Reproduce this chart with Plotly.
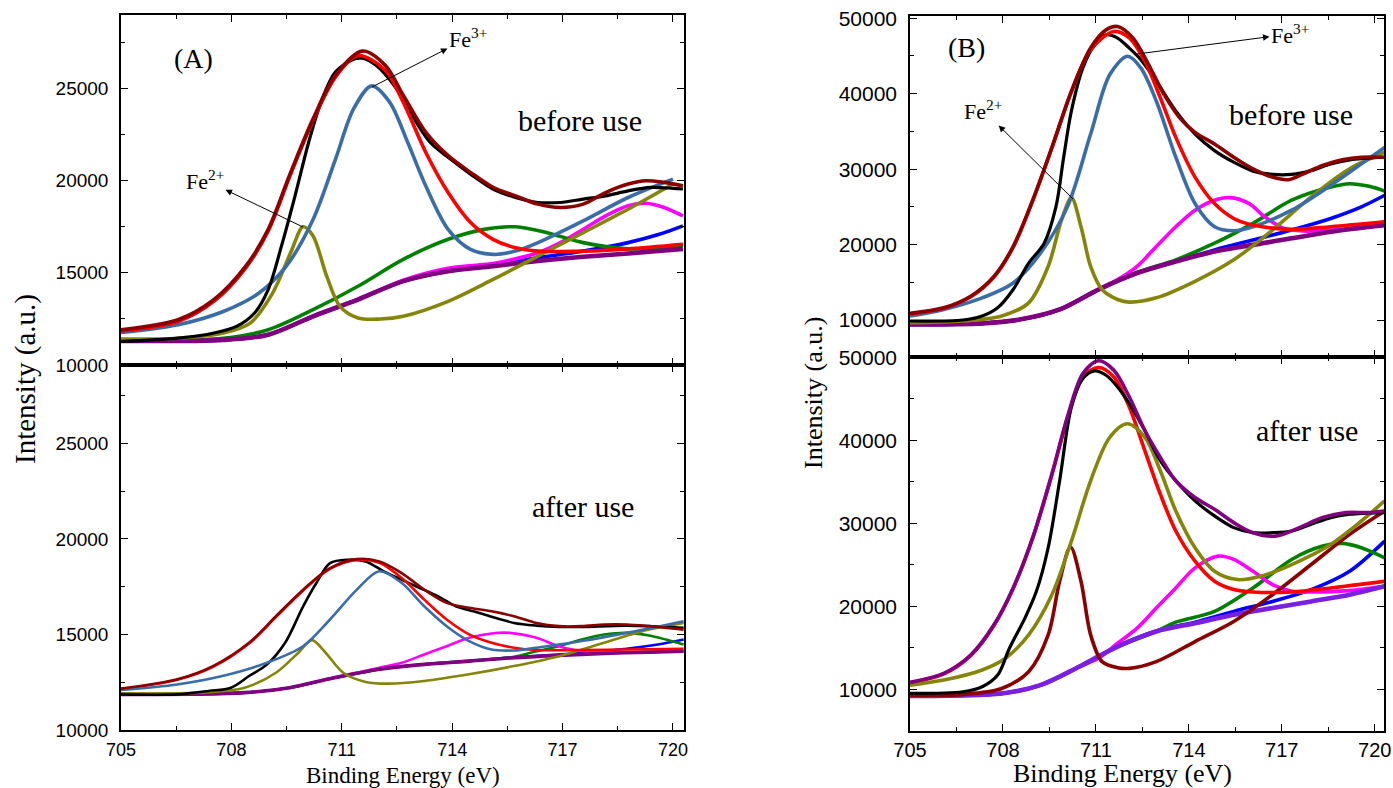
import plotly.graph_objects as go

W, H = 1393, 788

# ---------------- Panel A, before use ----------------
black_at_x = [705.0, 706.55, 707.53, 708.14, 708.63, 709.0, 709.36, 709.73, 710.10, 710.46, 710.83, 711.32, 711.56, 711.93, 712.42, 712.91, 713.40, 713.89, 714.50, 715.11, 715.72, 716.33, 716.94, 717.56, 718.17, 718.78, 719.39, 720.0, 720.27]
black_at_y = [11270, 11450, 11730, 12090, 12820, 14090, 16450, 19180, 22090, 24400, 25910, 26600, 26650, 26270, 25180, 23550, 22090, 21270, 20360, 19550, 19090, 18820, 18820, 19000, 19180, 19450, 19640, 19590, 19550]
env_at_x = [705.0, 706.55, 707.53, 708.39, 709.0, 709.61, 710.22, 710.83, 711.56, 712.18, 712.67, 713.28, 713.89, 714.50, 715.11, 715.72, 716.33, 716.94, 717.56, 718.17, 718.78, 719.27, 719.76, 720.27]
env_at_y = [11900, 12450, 13550, 15360, 17360, 20450, 23360, 25730, 27040, 26270, 24640, 22640, 21360, 20450, 19640, 19180, 18730, 18550, 18730, 19360, 19820, 20000, 19910, 19730]
red_at_x = [705.0, 706.55, 707.53, 708.39, 709.0, 709.61, 710.22, 710.83, 711.44, 712.18, 712.67, 713.28, 713.89, 714.50, 715.11, 715.72, 716.33, 717.56, 718.78, 720.27]
red_at_y = [11850, 12360, 13460, 15270, 17270, 20360, 23270, 25640, 26800, 26000, 24270, 21550, 19360, 17730, 16820, 16360, 16180, 16180, 16300, 16550]
sblue_at_x = [705.0, 706.55, 707.78, 708.75, 709.49, 710.22, 710.83, 711.32, 711.81, 712.30, 712.79, 713.28, 713.89, 714.50, 715.11, 715.72, 716.33, 717.56, 718.78, 720.0]
sblue_at_y = [11760, 12180, 12900, 13900, 15360, 17900, 21180, 23900, 25150, 24270, 22090, 19730, 17360, 16270, 16000, 16180, 16640, 17820, 19090, 20090]
olive_at_x = [705.0, 706.55, 707.78, 708.51, 709.12, 709.61, 709.95, 710.22, 710.59, 710.95, 711.44, 712.05, 712.67, 713.89, 715.11, 716.33, 717.56, 718.78, 720.0]
olive_at_y = [11400, 11450, 11730, 12270, 13900, 16090, 17500, 17000, 14820, 13180, 12550, 12490, 12640, 13450, 14640, 15910, 17180, 18450, 19820]
green_at_x = [705.0, 707.78, 709.0, 710.22, 711.44, 712.67, 713.89, 714.87, 715.72, 716.58, 717.56, 718.78, 720.27]
green_at_y = [11360, 11450, 11910, 13000, 14270, 15730, 16820, 17360, 17500, 17180, 16640, 16300, 16500]
bkg_at_x = [705.0, 707.78, 709.0, 710.22, 711.44, 712.67, 713.89, 715.11, 716.33, 717.56, 718.78, 720.27]
bkg_at_y = [11300, 11360, 11640, 12640, 13550, 14550, 15090, 15360, 15640, 15870, 16050, 16300]
blue_at_x = [705.0, 707.78, 709.0, 710.22, 711.44, 712.67, 713.89, 715.11, 716.33, 717.56, 718.78, 719.63, 720.27]
blue_at_y = [11300, 11360, 11640, 12640, 13550, 14550, 15090, 15400, 15820, 16180, 16640, 17090, 17550]
mag_at_x = [705.0, 707.78, 709.0, 710.22, 711.44, 712.67, 713.89, 715.11, 715.48, 716.33, 716.94, 717.56, 718.17, 718.78, 719.27, 719.76, 720.27]
mag_at_y = [11300, 11360, 11640, 12640, 13550, 14600, 15250, 15500, 15650, 16090, 16640, 17360, 18090, 18640, 18780, 18550, 18090]

# ---------------- Panel A, after use ----------------
black_ab_x = [705.0, 706.53, 707.38, 707.99, 708.48, 708.97, 709.46, 709.95, 710.31, 710.68, 711.16, 711.65, 712.14, 712.63, 713.12, 713.61, 714.10, 714.58, 715.07, 715.68, 716.29, 716.90, 717.52, 718.74, 720.29]
black_ab_y = [11860, 11860, 12040, 12210, 12820, 13430, 14560, 16470, 17690, 18730, 18910, 18820, 18300, 17860, 17430, 17000, 16470, 16210, 15920, 15600, 15460, 15390, 15390, 15460, 15340]
env_ab_x = [705.0, 706.53, 707.50, 708.48, 709.21, 709.95, 710.68, 711.41, 712.02, 712.63, 713.24, 713.85, 714.46, 715.07, 715.68, 716.29, 716.90, 717.52, 718.13, 718.74, 719.35, 720.29]
env_ab_y = [12160, 12650, 13340, 14560, 15950, 17340, 18470, 18940, 18820, 18210, 17340, 16650, 16390, 16210, 15950, 15600, 15430, 15430, 15520, 15520, 15430, 15250]
red_ab_x = [705.0, 706.53, 707.50, 708.48, 709.21, 709.95, 710.68, 711.41, 712.02, 712.63, 713.24, 713.85, 714.46, 715.07, 715.68, 716.29, 717.52, 718.74, 720.29]
red_ab_y = [12130, 12620, 13300, 14520, 15900, 17300, 18430, 18900, 18750, 17950, 16820, 15780, 15000, 14560, 14300, 14180, 14180, 14210, 14250]
sblue_ab_x = [705.0, 706.53, 707.75, 708.97, 709.95, 710.68, 711.41, 712.02, 712.63, 713.24, 713.85, 714.46, 715.07, 715.68, 716.29, 717.52, 718.74, 720.29]
sblue_ab_y = [12090, 12380, 12820, 13520, 14380, 15780, 17340, 18300, 17690, 16470, 15430, 14650, 14210, 14160, 14300, 14650, 15080, 15690]
olive_ab_x = [705.0, 707.14, 708.36, 709.21, 709.82, 710.19, 710.56, 711.04, 711.65, 712.26, 713.24, 714.46, 715.68, 716.90, 718.13, 719.35, 720.29]
olive_ab_y = [11910, 11950, 12210, 12990, 14040, 14700, 14040, 12990, 12510, 12420, 12560, 12910, 13340, 13860, 14560, 15250, 15600]
bkg_ab_x = [705.0, 708.36, 709.58, 710.80, 712.02, 713.24, 714.46, 715.68, 716.90, 718.13, 719.35, 720.29]
bkg_ab_y = [11860, 11950, 12210, 12730, 13170, 13430, 13600, 13780, 13900, 14000, 14070, 14120]
mag_ab_x = [705.0, 708.36, 709.58, 710.80, 712.02, 712.63, 713.24, 713.85, 714.46, 715.07, 715.56, 716.29, 716.90, 717.52, 718.74, 720.29]
mag_ab_y = [11860, 11950, 12210, 12750, 13250, 13520, 13950, 14380, 14820, 15050, 15080, 14820, 14380, 14120, 14070, 14120]
green_ab_x = [705.0, 708.36, 709.58, 710.80, 712.02, 713.24, 714.46, 715.68, 716.29, 716.90, 717.52, 718.13, 718.74, 719.35, 720.29]
green_ab_y = [11860, 11950, 12210, 12730, 13170, 13430, 13620, 13830, 14120, 14380, 14730, 14990, 15080, 14940, 14470]
blue_ab_x = [705.0, 708.36, 709.58, 710.80, 712.02, 713.24, 714.46, 715.68, 716.90, 717.52, 718.74, 719.59, 720.29]
blue_ab_y = [11860, 11950, 12210, 12730, 13170, 13430, 13600, 13800, 13950, 14050, 14250, 14470, 14730]

# ---------------- Panel B, before use ----------------
black_bt_x = [705.0, 706.71, 707.33, 707.83, 708.33, 708.83, 709.33, 709.71, 709.96, 710.21, 710.58, 710.96, 711.33, 711.70, 712.08, 712.45, 712.95, 713.58, 714.20, 714.83, 715.45, 716.07, 716.70, 717.32, 717.95, 718.58, 719.19, 720.32]
black_bt_y = [9870, 10000, 10530, 11620, 14040, 17540, 20180, 25000, 31580, 37720, 43420, 46490, 47810, 47370, 46050, 44520, 41670, 37720, 34650, 32460, 30920, 29740, 29300, 29300, 29820, 30700, 31230, 31580]
env_bt_x = [705.0, 706.09, 706.96, 707.71, 708.33, 708.96, 709.58, 710.21, 710.83, 711.33, 711.70, 712.20, 712.70, 713.20, 713.70, 714.20, 714.83, 715.45, 716.07, 716.70, 717.20, 717.70, 718.32, 718.95, 719.57, 720.32]
env_bt_y = [10880, 11620, 13160, 15790, 19740, 25880, 32890, 40350, 46050, 48460, 48900, 47370, 43860, 39910, 36840, 34870, 33330, 31580, 30040, 28950, 28600, 29390, 30480, 31230, 31580, 31580]
red_bt_x = [705.0, 706.09, 706.96, 707.71, 708.33, 708.96, 709.58, 710.21, 710.83, 711.58, 712.08, 712.58, 713.08, 713.58, 714.20, 714.83, 715.45, 716.07, 717.32, 718.58, 720.32]
red_bt_y = [10800, 11550, 13080, 15700, 19650, 25800, 32800, 40250, 45800, 48250, 47400, 44300, 39470, 34210, 28950, 25440, 23460, 22590, 22020, 22370, 23030]
sblue_bt_x = [705.0, 706.09, 707.33, 708.33, 709.21, 710.08, 710.83, 711.45, 712.02, 712.45, 712.95, 713.58, 714.20, 714.83, 715.45, 716.07, 717.32, 718.58, 719.57, 720.32]
sblue_bt_y = [10530, 11400, 12940, 14910, 18860, 25000, 34650, 42540, 44960, 43420, 39040, 31580, 25440, 22370, 21840, 22370, 24560, 27850, 30700, 32890]
olive_bt_x = [705.0, 706.71, 707.96, 708.83, 709.46, 709.89, 710.21, 710.52, 710.83, 711.20, 711.70, 712.08, 712.95, 714.20, 715.45, 716.70, 717.95, 719.19, 720.32]
olive_bt_y = [9650, 9870, 10530, 12280, 17110, 23250, 26230, 22370, 17110, 14040, 12720, 12370, 12940, 15130, 17980, 21930, 26320, 30040, 32240]
bkg_bt_x = [705.0, 707.33, 708.58, 709.83, 711.08, 712.33, 713.58, 714.83, 716.07, 717.32, 718.58, 720.32]
bkg_bt_y = [9430, 9560, 10090, 11400, 14040, 16230, 17760, 19080, 19960, 20830, 21710, 22590]
mag_bt_x = [705.0, 707.33, 708.58, 709.83, 711.08, 711.70, 712.33, 712.95, 713.58, 714.20, 714.83, 715.32, 715.95, 716.45, 717.07, 717.70, 718.58, 720.32]
mag_bt_y = [9430, 9560, 10090, 11400, 14040, 15350, 17110, 19740, 22370, 24560, 25880, 26230, 25440, 23680, 22150, 21800, 21930, 22590]
green_bt_x = [705.0, 707.33, 708.58, 709.83, 711.08, 712.33, 713.58, 714.83, 716.07, 717.32, 718.58, 719.19, 719.82, 720.32]
green_bt_y = [9430, 9560, 10090, 11400, 14040, 16300, 17980, 20180, 22810, 25880, 27630, 28070, 27720, 27100]
blue_bt_x = [705.0, 707.33, 708.58, 709.83, 711.08, 712.33, 713.58, 714.83, 716.07, 717.32, 718.58, 719.57, 720.32]
blue_bt_y = [9430, 9560, 10090, 11400, 14040, 16230, 17800, 19300, 20610, 21930, 23460, 25000, 26540]

# ---------------- Panel B, after use ----------------
black_bb_x = [705.0, 706.71, 707.33, 707.83, 708.21, 708.71, 709.08, 709.46, 709.83, 710.21, 710.58, 710.96, 711.33, 711.70, 712.08, 712.58, 713.08, 713.58, 714.20, 714.83, 715.45, 716.07, 716.70, 717.32, 717.95, 718.58, 719.19, 720.32]
black_bb_y = [9520, 9720, 10320, 11730, 14960, 18590, 21810, 27060, 35120, 43990, 47420, 48350, 47820, 46410, 44400, 41170, 37540, 35120, 32700, 30890, 29480, 28870, 28870, 29070, 29880, 30690, 31090, 31290]
env_bb_x = [705.0, 706.09, 706.96, 707.71, 708.33, 708.96, 709.58, 710.08, 710.58, 711.08, 711.58, 712.08, 712.58, 713.08, 713.58, 714.20, 714.83, 715.45, 716.07, 716.82, 717.57, 718.32, 719.07, 719.82, 720.32]
env_bb_y = [10850, 11940, 14150, 17780, 22220, 28270, 35930, 42780, 48020, 49560, 48430, 45200, 41170, 37940, 35120, 33100, 31690, 30080, 28870, 28470, 29480, 30690, 31290, 31290, 31490]
red_bb_x = [705.0, 706.09, 706.96, 707.71, 708.33, 708.96, 709.58, 710.08, 710.58, 711.08, 711.58, 712.08, 712.58, 713.08, 713.58, 714.20, 714.83, 715.45, 716.07, 717.32, 718.58, 720.32]
red_bb_y = [10800, 11880, 14080, 17700, 22150, 28200, 35850, 42600, 47620, 48750, 47620, 43990, 38750, 33510, 29070, 25440, 23020, 22020, 21730, 21730, 22220, 23020]
olive_bb_x = [705.0, 706.09, 707.33, 708.08, 708.83, 709.58, 710.21, 710.83, 711.45, 712.02, 712.58, 713.08, 713.58, 714.20, 714.83, 715.57, 716.32, 717.32, 718.58, 719.57, 720.32]
olive_bb_y = [10520, 11130, 12340, 13750, 16570, 21410, 27860, 35120, 40360, 41980, 40360, 36330, 31490, 27060, 24230, 23230, 23630, 25040, 27460, 30280, 32700]
wine_bb_x = [705.0, 706.71, 707.96, 708.83, 709.46, 709.83, 710.18, 710.52, 710.83, 711.20, 711.70, 712.08, 712.95, 714.20, 715.45, 716.70, 717.95, 719.19, 720.32]
wine_bb_y = [9310, 9400, 10120, 12140, 16570, 23020, 27140, 23020, 16570, 13350, 12620, 12540, 13350, 15770, 18190, 21410, 25040, 28670, 31490]
bkg_bb_x = [705.0, 707.96, 709.21, 710.46, 711.70, 712.95, 714.20, 715.45, 716.70, 717.95, 719.19, 720.32]
bkg_bb_y = [9230, 9520, 10520, 12740, 15160, 16980, 17980, 18990, 19800, 20600, 21410, 22420]
mag_bb_x = [705.0, 707.96, 709.21, 710.46, 711.08, 711.70, 712.33, 712.95, 713.58, 714.20, 714.95, 715.45, 716.07, 716.70, 717.32, 717.95, 719.19, 720.32]
mag_bb_y = [9230, 9520, 10520, 12740, 13750, 15560, 17380, 19800, 22220, 24640, 26050, 25650, 24230, 22620, 21810, 21730, 21900, 22420]
green_bb_x = [705.0, 707.96, 709.21, 710.46, 711.70, 712.95, 713.58, 714.83, 716.07, 717.32, 718.32, 718.95, 719.57, 720.32]
green_bb_y = [9230, 9520, 10520, 12740, 15160, 17000, 18100, 19400, 22220, 25650, 27260, 27580, 27060, 25850]
blue_bb_x = [705.0, 707.96, 709.21, 710.46, 711.70, 712.95, 714.20, 715.45, 716.70, 717.95, 719.19, 720.32]
blue_bb_y = [9230, 9520, 10520, 12740, 15200, 17050, 18100, 19400, 20600, 22020, 24230, 27860]

# colours
C_BLACK = "#000000"
C_WINE = "#8B0000"
C_RED = "#FF0000"
C_SBLUE = "#3A6DA8"
C_OLIVE = "#85850A"
C_GREEN = "#008000"
C_MAG = "#FF00FF"
C_BLUE = "#0000FF"
C_PURP = "#800080"
C_VIOL = "#7B1FE0"

fig = go.Figure()


def add(x, y, color, width, ax):
    fig.add_trace(go.Scatter(
        x=x, y=y, mode="lines",
        line=dict(color=color, width=width, shape="spline", smoothing=0.9),
        xaxis="x" + ax, yaxis="y" + ax, showlegend=False, hoverinfo="skip"))


# A top (axis 1)
wA = 3.6
add(blue_at_x, blue_at_y, C_BLUE, wA, "")
add(mag_at_x, mag_at_y, C_MAG, wA, "")
add(green_at_x, green_at_y, C_GREEN, wA, "")
add(bkg_at_x, bkg_at_y, C_PURP, wA + 1, "")
add(olive_at_x, olive_at_y, C_OLIVE, wA, "")
add(sblue_at_x, sblue_at_y, C_SBLUE, wA, "")
add(black_at_x, black_at_y, C_BLACK, 3.2, "")
add(red_at_x, red_at_y, C_RED, wA, "")
add(env_at_x, env_at_y, C_WINE, wA, "")

# A bottom (axis 2)
wB = 2.6
add(blue_ab_x, blue_ab_y, C_BLUE, wB, "2")
add(green_ab_x, green_ab_y, C_GREEN, wB, "2")
add(mag_ab_x, mag_ab_y, C_MAG, wB, "2")
add(bkg_ab_x, bkg_ab_y, C_PURP, wB + 1, "2")
add(olive_ab_x, olive_ab_y, C_OLIVE, wB, "2")
add(black_ab_x, black_ab_y, C_BLACK, 2.6, "2")
add(red_ab_x, red_ab_y, C_RED, wB, "2")
add(sblue_ab_x, sblue_ab_y, C_SBLUE, wB, "2")
add(env_ab_x, env_ab_y, C_WINE, wB, "2")

# B top (axis 3)
wC = 3.6
add(blue_bt_x, blue_bt_y, C_BLUE, wC, "3")
add(green_bt_x, green_bt_y, C_GREEN, wC, "3")
add(mag_bt_x, mag_bt_y, C_MAG, wC, "3")
add(bkg_bt_x, bkg_bt_y, C_PURP, wC + 1, "3")
add(olive_bt_x, olive_bt_y, C_OLIVE, wC, "3")
add(sblue_bt_x, sblue_bt_y, C_SBLUE, wC, "3")
add(black_bt_x, black_bt_y, C_BLACK, 3.2, "3")
add(red_bt_x, red_bt_y, C_RED, wC, "3")
add(env_bt_x, env_bt_y, C_WINE, wC, "3")

# B bottom (axis 4)
add(blue_bb_x, blue_bb_y, C_BLUE, wC, "4")
add(green_bb_x, green_bb_y, C_GREEN, wC, "4")
add(mag_bb_x, mag_bb_y, C_MAG, wC, "4")
add(bkg_bb_x, bkg_bb_y, C_VIOL, wC + 1, "4")
add(wine_bb_x, wine_bb_y, C_WINE, wC, "4")
add(red_bb_x, red_bb_y, C_RED, wC, "4")
add(olive_bb_x, olive_bb_y, C_OLIVE, wC, "4")
add(black_bb_x, black_bb_y, C_BLACK, 3.2, "4")
add(env_bb_x, env_bb_y, C_PURP, wC, "4")


def px(x):
    return x / W


def py(y):
    return 1 - y / H


SANS = "Liberation Sans, Arial, sans-serif"
SERIF = "Liberation Serif, Times New Roman, serif"

domA = [px(121), px(684)]
domB = [px(910), px(1384)]
domAt = [py(365), py(15)]
domAb = [py(730), py(365)]
domBt = [py(357), py(16)]
domBb = [py(731), py(357)]


def xaxis(domain, anchor, labels, fsize, stand):
    return dict(domain=domain, anchor=anchor, range=[705, 720.3], automargin=False,
                tickmode="linear", tick0=705, dtick=3,
                ticks="inside", ticklen=7, tickwidth=1.2, tickcolor="black",
                minor=dict(ticks="inside", ticklen=4, tickwidth=1.2, tickcolor="black",
                           tickmode="linear", tick0=705, dtick=1.5),
                showline=True, linecolor="black", linewidth=1.5, mirror="ticks",
                showticklabels=labels, tickfont=dict(family=SANS, size=fsize, color="black"),
                ticklabeloverflow="allow",
                showgrid=False, zeroline=False, ticklabelstandoff=stand)


def yaxis(domain, anchor, rng, dt, mdt, fsize):
    return dict(domain=domain, anchor=anchor, range=rng, automargin=False,
                tickmode="linear", tick0=10000, dtick=dt, tickformat="d",
                ticks="inside", ticklen=7, tickwidth=1.2, tickcolor="black",
                minor=dict(ticks="inside", ticklen=4, tickwidth=1.2, tickcolor="black",
                           tickmode="linear", tick0=10000, dtick=mdt),
                showline=True, linecolor="black", linewidth=1.5, mirror="ticks",
                tickfont=dict(family=SANS, size=fsize, color="black"),
                ticklabeloverflow="allow",
                showgrid=False, zeroline=False, ticklabelstandoff=7)


annotations = []


def text(x, y, s, size, family=SERIF, angle=0):
    annotations.append(dict(x=px(x), y=py(y), xref="paper", yref="paper", text=s,
                            showarrow=False, xanchor="center", yanchor="middle", textangle=angle,
                            font=dict(family=family, size=size, color="black")))


def label_arrow(s, tx, ty, cx, cy, size):
    # arrow from a point on the curve (cx, cy) to the label at (tx, ty), head at the label
    annotations.append(dict(x=px(cx), y=py(cy), xref="paper", yref="paper", text=s,
                            showarrow=True, ax=tx - cx, ay=ty - cy,
                            arrowside="start", startarrowhead=2, startarrowsize=1.3,
                            arrowwidth=1, arrowcolor="black", standoff=0, startstandoff=0,
                            font=dict(family=SERIF, size=size, color="black")))


text(193, 58, "(A)", 28)
text(580, 120, "before use", 30)
text(583, 506, "after use", 30)
text(966, 48, "(B)", 28)
text(1291, 114, "before use", 30)
text(1307, 430, "after use", 30)
label_arrow("Fe<sup>3+</sup>", 468, 38, 372, 87, 22)
label_arrow("Fe<sup>2+</sup>", 205, 180, 303, 227, 22)
label_arrow("Fe<sup>3+</sup>", 1290, 34, 1137, 54, 22)
label_arrow("Fe<sup>2+</sup>", 983, 110, 1073, 199, 22)
text(403, 775, "Binding Energy (eV)", 23)
text(1122, 773, "Binding Energy (eV)", 26)
text(25, 379, "Intensity (a.u.)", 29, angle=-90)
text(813, 393, "Intensity (a.u.)", 26, angle=-90)

fig.update_layout(
    template="none",
    width=W, height=H, margin=dict(l=0, r=0, t=0, b=0, pad=0), autosize=False,
    paper_bgcolor="white", plot_bgcolor="white", showlegend=False,
    xaxis=xaxis(domA, "y", False, 18, 3),
    yaxis=yaxis(domAt, "x", [9995, 29000], 5000, 2500, 19),
    xaxis2=xaxis(domA, "y2", True, 18, 3),
    yaxis2=yaxis(domAb, "x2", [9995, 29100], 5000, 2500, 19),
    xaxis3=xaxis(domB, "y3", False, 20, 0),
    yaxis3=yaxis(domBt, "x3", [5100, 50300], 10000, 5000, 21),
    xaxis4=xaxis(domB, "y4", True, 20, 0),
    yaxis4=yaxis(domBb, "x4", [5000, 50020], 10000, 5000, 21),
    annotations=annotations,
)

# remove the browser's default page margin so the 1393x788 figure fills the window exactly
fig.write_html("out.html", config={"displayModeBar": False},
               post_script="document.body.style.margin='0';document.body.style.overflow='hidden';")
